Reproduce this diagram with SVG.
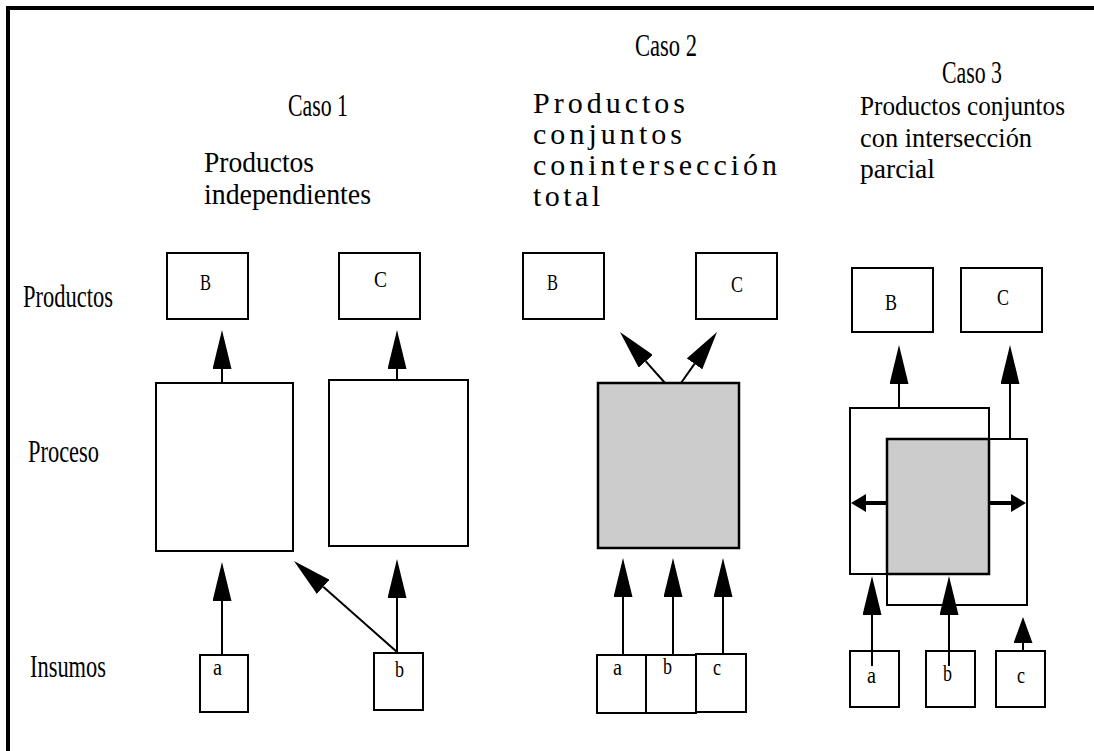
<svg xmlns="http://www.w3.org/2000/svg" width="1094" height="751" viewBox="0 0 1094 751">
<style>
.box{fill:#ffffff;stroke:#000;stroke-width:2}
.open{fill:none;stroke:#000;stroke-width:2}
.gray{fill:#cccccc;stroke:#000;stroke-width:2.5}
.ln{fill:none;stroke:#000;stroke-width:2;marker-end:url(#ah)}
.cond{font-family:"Liberation Serif","Times New Roman",serif;font-size:31px;fill:#000}
.title{font-family:"Liberation Serif","Times New Roman",serif;font-size:30px;fill:#000}
.t3{font-family:"Liberation Serif","Times New Roman",serif;font-size:28px;fill:#000}
.big{font-family:"Liberation Serif","Times New Roman",serif;font-size:30px;fill:#000}
.lt{font-family:"Liberation Serif","Times New Roman",serif;font-size:24px;fill:#000}
</style>
<defs>
<marker id="ah" markerUnits="userSpaceOnUse" markerWidth="39" markerHeight="19" viewBox="0 0 39 19" refX="0" refY="9.5" orient="auto"><path d="M0,0 L39,9.5 L0,19 z" fill="#000"/></marker>
<marker id="ahShort" markerUnits="userSpaceOnUse" markerWidth="26" markerHeight="19" viewBox="0 0 26 19" refX="0" refY="9.5" orient="auto"><path d="M0,0 L26,9.5 L0,19 z" fill="#000"/></marker>
<marker id="ahSmall" markerUnits="userSpaceOnUse" markerWidth="15" markerHeight="18" viewBox="0 0 15 18" refX="0" refY="9" orient="auto"><path d="M0,0 L15,9 L0,18 z" fill="#000"/></marker>
</defs>
<rect x="0" y="0" width="1094" height="751" fill="#ffffff"/>
<path d="M8,751 L8,8 L1094,8" fill="none" stroke="#000" stroke-width="4"/>

<g id="labels">
<text class="cond" x="23" y="307" textLength="90" lengthAdjust="spacingAndGlyphs">Productos</text>
<text class="cond" x="28" y="462" textLength="71" lengthAdjust="spacingAndGlyphs">Proceso</text>
<text class="cond" x="30" y="677" textLength="76" lengthAdjust="spacingAndGlyphs">Insumos</text>
<text class="cond" x="288" y="116" textLength="60" lengthAdjust="spacingAndGlyphs">Caso 1</text>
<text class="title" x="204" y="172" textLength="110" lengthAdjust="spacingAndGlyphs">Productos</text>
<text class="title" x="204" y="204" textLength="167" lengthAdjust="spacingAndGlyphs">independientes</text>
<text class="cond" x="635" y="56" textLength="62" lengthAdjust="spacingAndGlyphs">Caso 2</text>
<text class="big" x="533" y="113" textLength="152" lengthAdjust="spacing">Productos</text>
<text class="big" x="533" y="144" textLength="149" lengthAdjust="spacing">conjuntos</text>
<text class="big" x="533" y="175" textLength="244" lengthAdjust="spacing">conintersección</text>
<text class="big" x="533" y="206" textLength="67" lengthAdjust="spacing">total</text>
<text class="cond" x="942" y="83" textLength="60" lengthAdjust="spacingAndGlyphs">Caso 3</text>
<text class="t3" x="860" y="115" textLength="205" lengthAdjust="spacingAndGlyphs">Productos conjuntos</text>
<text class="t3" x="860" y="147" textLength="172" lengthAdjust="spacingAndGlyphs">con intersección</text>
<text class="t3" x="860" y="178" textLength="75" lengthAdjust="spacingAndGlyphs">parcial</text>
</g>

<g id="c1-B"><rect class="box" x="167" y="253" width="81" height="66"/><text class="lt" x="200" y="290" textLength="11" lengthAdjust="spacingAndGlyphs">B</text></g>
<g id="c1-C"><rect class="box" x="339" y="253" width="81" height="66"/><text class="lt" x="374" y="287" textLength="13" lengthAdjust="spacingAndGlyphs">C</text></g>
<g id="c1-proc1"><rect class="box" x="156" y="383" width="137" height="168"/></g>
<g id="c1-proc2"><rect class="box" x="329" y="380" width="139" height="166"/></g>
<g id="c1-a"><rect class="box" x="200" y="655" width="48" height="57"/><text class="lt" x="213" y="675" textLength="9" lengthAdjust="spacingAndGlyphs">a</text></g>
<g id="c1-b"><rect class="box" x="374" y="653" width="49" height="57"/><text class="lt" x="395" y="677" textLength="9" lengthAdjust="spacingAndGlyphs">b</text></g>

<g id="c2-B"><rect class="box" x="523" y="253" width="81" height="66"/><text class="lt" x="547" y="290" textLength="11" lengthAdjust="spacingAndGlyphs">B</text></g>
<g id="c2-C"><rect class="box" x="696" y="253" width="81" height="66"/><text class="lt" x="731" y="292" textLength="12" lengthAdjust="spacingAndGlyphs">C</text></g>
<g id="c2-proc"><rect class="gray" x="598" y="383" width="141" height="165"/></g>
<g id="c2-a"><rect class="box" x="597" y="655" width="49" height="58"/><text class="lt" x="613" y="675" textLength="9" lengthAdjust="spacingAndGlyphs">a</text></g>
<g id="c2-b"><rect class="box" x="646" y="655" width="50" height="58"/><text class="lt" x="663" y="674" textLength="9" lengthAdjust="spacingAndGlyphs">b</text></g>
<g id="c2-c"><rect class="box" x="696" y="654" width="50" height="58"/><text class="lt" x="713" y="675" textLength="8" lengthAdjust="spacingAndGlyphs">c</text></g>

<g id="c3-B"><rect class="box" x="852" y="268" width="81" height="64"/><text class="lt" x="885" y="310" textLength="12" lengthAdjust="spacingAndGlyphs">B</text></g>
<g id="c3-C"><rect class="box" x="961" y="268" width="81" height="64"/><text class="lt" x="997" y="305" textLength="12" lengthAdjust="spacingAndGlyphs">C</text></g>
<g id="c3-proc1"><rect class="open" x="850" y="408" width="139" height="166"/></g>
<g id="c3-proc2"><rect class="open" x="887" y="439" width="140" height="166"/></g>
<g id="c3-intersect"><rect class="gray" x="887" y="439" width="102" height="135"/></g>
<g id="c3-a"><rect class="box" x="850" y="651" width="49" height="56"/><text class="lt" x="867" y="683" textLength="9" lengthAdjust="spacingAndGlyphs">a</text></g>
<g id="c3-b"><rect class="box" x="926" y="651" width="49" height="56"/><text class="lt" x="943" y="681" textLength="9" lengthAdjust="spacingAndGlyphs">b</text></g>
<g id="c3-c"><rect class="box" x="996" y="651" width="49" height="56"/><text class="lt" x="1017" y="683" textLength="8" lengthAdjust="spacingAndGlyphs">c</text></g>

<g id="connectors">
<path class="ln" d="M222,383 L222,369"/>
<path class="ln" d="M397,380 L397,369"/>
<path class="ln" d="M222,655 L222,601"/>
<path class="ln" d="M397,652 L397,598"/>
<path class="ln" d="M397,652 L323.2,586.8"/>
<path class="ln" d="M665,383 L645.8,361.3"/>
<path class="ln" d="M681,383 L694.5,363.9"/>
<path class="ln" d="M623,655 L623,597"/>
<path class="ln" d="M673,655 L673,597"/>
<path class="ln" d="M723,654 L723,597"/>
<path class="ln" d="M899,408 L899,384"/>
<path class="ln" d="M1010,439 L1010,384"/>
<path class="ln" d="M872,666 L872,615"/>
<path class="ln" d="M949,666 L949,615"/>
<path d="M1023,651 L1023,643" fill="none" stroke="#000" stroke-width="2" marker-end="url(#ahShort)"/>
<path d="M887,503 L866,503" fill="none" stroke="#000" stroke-width="4" marker-end="url(#ahSmall)"/>
<path d="M989,503 L1011,503" fill="none" stroke="#000" stroke-width="4" marker-end="url(#ahSmall)"/>
</g>
</svg>
